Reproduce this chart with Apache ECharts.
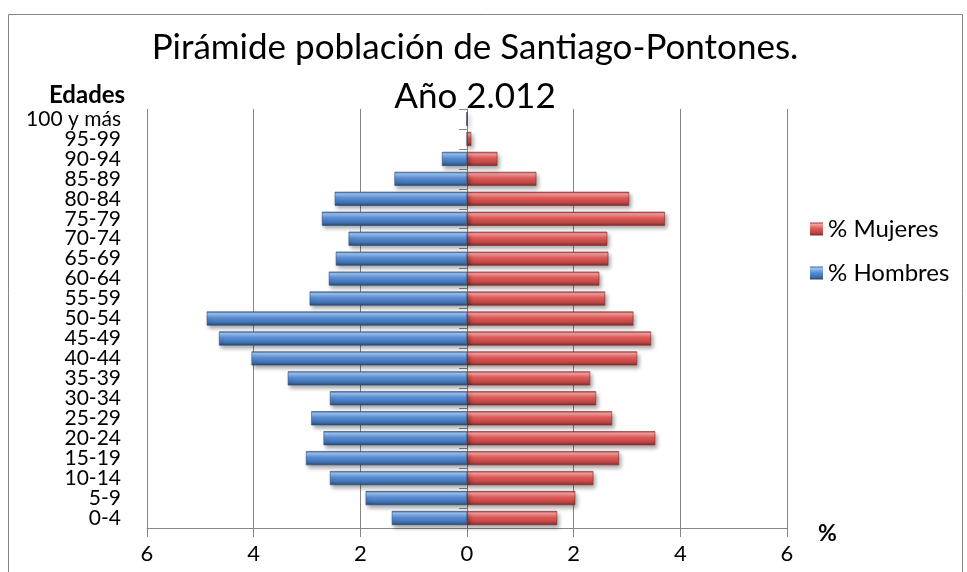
<!DOCTYPE html>
<html><head><meta charset="utf-8">
<script src="https://cdn.jsdelivr.net/npm/echarts@6/dist/echarts.min.js"></script>
<style>html,body{margin:0;padding:0;background:#fff}#c{width:967px;height:572px}</style>
</head><body><div id="c"></div>
<script>
const categories = ['0-4','5-9','10-14','15-19','20-24','25-29','30-34','35-39','40-44','45-49','50-54','55-59','60-64','65-69','70-74','75-79','80-84','85-89','90-94','95-99','100 y más'];
const hombres = [1.41,1.90,2.57,3.02,2.69,2.92,2.57,3.36,4.04,4.65,4.88,2.95,2.59,2.46,2.22,2.72,2.48,1.36,0.47,0,0];
const mujeres = [1.69,2.03,2.37,2.85,3.53,2.72,2.42,2.31,3.19,3.45,3.12,2.59,2.48,2.65,2.63,3.71,3.04,1.30,0.57,0.08,0];
const xTicks = [-6,-4,-2,0,2,4,6];
const FONT = 'Lato';

const blueGrad = new echarts.graphic.LinearGradient(0,0,0,1,[
  {offset:0,color:'#3a6aa8'},{offset:0.15,color:'#9cc3f0'},{offset:0.45,color:'#5b8fd6'},{offset:0.8,color:'#3e6fae'},{offset:1,color:'#25466f'}]);
const redGrad = new echarts.graphic.LinearGradient(0,0,0,1,[
  {offset:0,color:'#a83a38'},{offset:0.15,color:'#f4a0a0'},{offset:0.45,color:'#e25a58'},{offset:0.8,color:'#b84543'},{offset:1,color:'#7a2826'}]);

const chart = echarts.init(document.getElementById('c'));
chart.setOption({
  animation:false,
  title:{text:'Pirámide población de Santiago-Pontones.\nAño 2.012',left:470,top:18,textAlign:'center',
    textStyle:{fontFamily:FONT,fontSize:35,fontWeight:'normal',color:'#000',lineHeight:49}},
  legend:{orient:'vertical',left:805,top:212,itemGap:20,itemWidth:13,itemHeight:13,icon:'rect',itemStyle:{borderWidth:0},
    data:['% Mujeres','% Hombres'],textStyle:{fontFamily:FONT,fontSize:24,color:'#000'}},
  grid:{left:147,right:180,top:109,bottom:44,containLabel:false,outerBoundsMode:'none'},
  xAxis:{type:'value',min:-6,max:6,interval:2,
    axisLine:{show:true,lineStyle:{color:'#868686',width:1}},
    axisTick:{show:true,length:9,lineStyle:{color:'#868686'}},
    splitLine:{show:true,lineStyle:{color:'#868686',width:1}},
    axisLabel:{margin:15,fontFamily:FONT,fontSize:22,color:'#000',
      formatter:v=>xTicks.includes(v)?String(Math.abs(v)):''}},
  yAxis:[
    {type:'category',data:categories,
      axisLine:{onZero:true,lineStyle:{color:'#868686',width:1}},
      axisTick:{show:true,length:8,lineStyle:{color:'#868686'}},
      axisLabel:{show:false}},
    {type:'category',data:categories,position:'left',
      axisLine:{show:false,onZero:false},axisTick:{show:false},splitLine:{show:false},
      axisLabel:{show:true,interval:0,hideOverlap:false,margin:26,fontFamily:FONT,fontSize:21,color:'#000',lineHeight:20}}
  ],
  graphic:[
    {type:'rect',shape:{x:8.5,y:14.5,width:954,height:600},style:{fill:'none',stroke:'#868686',lineWidth:1},z:-1},
    {type:'text',left:49,top:83,style:{text:'Edades',fontFamily:FONT,fontSize:24,fontWeight:'bold',fill:'#000'}},
    {type:'text',left:818,top:522,style:{text:'%',fontFamily:FONT,fontSize:23,fontWeight:'bold',fill:'#000'}}
  ],
  series:[
    {name:'% Mujeres',type:'bar',data:mujeres,barWidth:14,barGap:'-100%',
      itemStyle:{color:redGrad,borderColor:'#8b2e2b',borderWidth:0.6,shadowColor:'rgba(0,0,0,0.35)',shadowBlur:4,shadowOffsetY:3,shadowOffsetX:2}},
    {name:'% Hombres',type:'bar',data:hombres.map(v=>-v),barWidth:14,barGap:'-100%',
      itemStyle:{color:blueGrad,borderColor:'#2c4d75',borderWidth:0.6,shadowColor:'rgba(0,0,0,0.35)',shadowBlur:4,shadowOffsetY:3,shadowOffsetX:2}}
  ]
});
</script></body></html>
